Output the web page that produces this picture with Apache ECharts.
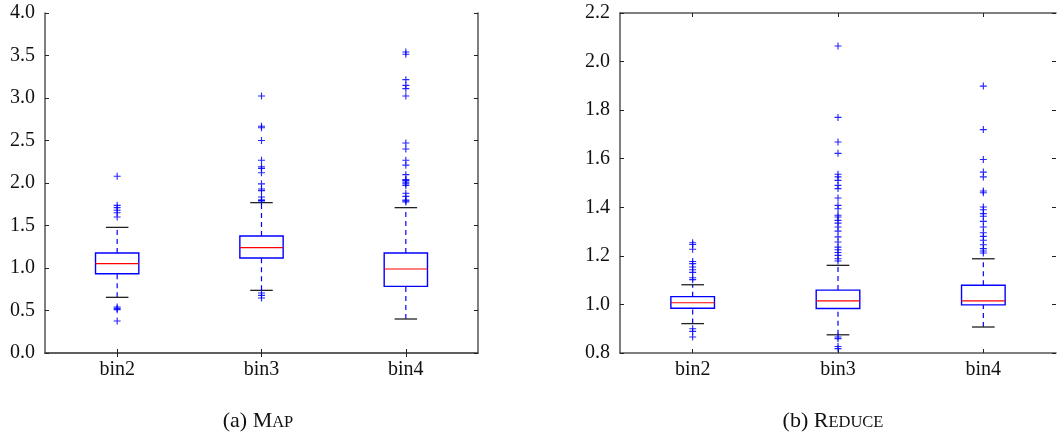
<!DOCTYPE html>
<html>
<head>
<meta charset="utf-8">
<script src="https://cdn.jsdelivr.net/npm/echarts@6/dist/echarts.min.js"></script>
<style>
  html, body { margin: 0; padding: 0; background: #fff; }
  #chart { width: 1057px; height: 440px; }
</style>
</head>
<body>
<div id="chart"></div>
<script>
var categories = ['bin2', 'bin3', 'bin4'];

// [lower whisker, Q1, median, Q3, upper whisker]
var mapBoxes = [
    [0.655, 0.933, 1.051, 1.176, 1.478],
    [0.737, 1.118, 1.239, 1.376, 1.769],
    [0.40, 0.784, 0.988, 1.176, 1.71]
];
var mapOutliers = [
    [2.08, 1.737, 1.71, 1.68, 1.65, 1.60, 0.541, 0.525, 0.51, 0.376],
    [3.024, 2.667, 2.65, 2.50, 2.267, 2.19, 2.17, 2.12, 1.99, 1.93, 1.91, 1.835, 1.80, 1.796, 1.79, 0.706, 0.678, 0.647],
    [3.541, 3.514, 3.216, 3.149, 3.11, 3.024, 2.47, 2.40, 2.267, 2.21, 2.098, 2.04, 2.03, 2.01, 1.99, 1.97, 1.88, 1.843, 1.80, 1.79, 1.776]
];

var reduceBoxes = [
    [0.921, 0.984, 1.007, 1.032, 1.081],
    [0.875, 0.983, 1.015, 1.059, 1.161],
    [0.907, 0.998, 1.015, 1.079, 1.188]
];
var reduceOutliers = [
    [1.254, 1.247, 1.227, 1.177, 1.168, 1.154, 1.143, 1.132, 1.110, 1.102, 0.900, 0.889, 0.866],
    [2.064, 1.770, 1.669, 1.622, 1.536, 1.525, 1.511, 1.490, 1.477, 1.438, 1.408, 1.394, 1.367, 1.360, 1.346, 1.335,
     1.319, 1.302, 1.278, 1.257, 1.236, 1.225, 1.214, 1.202, 1.188, 1.179, 0.866, 0.859, 0.827, 0.818],
    [1.899, 1.720, 1.597, 1.545, 1.525, 1.467, 1.460, 1.401, 1.390, 1.374, 1.363, 1.342, 1.319, 1.295, 1.280,
     1.264, 1.246, 1.230, 1.220, 1.212]
];

var mapTicks = { min: 0, max: 4, interval: 0.5 };
var reduceTicks = { min: 0.8, max: 2.2, interval: 0.2 };

var chart = echarts.init(document.getElementById('chart'));

var BLUE = '#0000ff';
var FONT = '"Liberation Serif", "DejaVu Serif", serif';
var PLUS = 'path://M0.42,0H0.58V0.42H1V0.58H0.58V1H0.42V0.58H0V0.42H0.42Z';

function boxData(boxes) {
    return boxes.map(function (b, i) { return [i].concat(b); });
}
function outlierData(outs) {
    var res = [];
    outs.forEach(function (list, i) {
        list.forEach(function (v) { res.push([i, v]); });
    });
    return res;
}

function renderBox(params, api) {
    var i = api.value(0);
    var lo = api.coord([i, api.value(1)]);
    var q1 = api.coord([i, api.value(2)]);
    var md = api.coord([i, api.value(3)]);
    var q3 = api.coord([i, api.value(4)]);
    var hi = api.coord([i, api.value(5)]);
    var bw = api.size([1, 0])[0] * 0.3;
    var cw = bw * 0.52;
    var x = lo[0];
    var dash = { stroke: BLUE, lineWidth: 1.2, lineDash: [5, 4] };
    var cap = { stroke: '#222', lineWidth: 1.3 };
    return {
        type: 'group',
        children: [
            { type: 'line', shape: { x1: x, y1: lo[1], x2: x, y2: q1[1] }, style: dash },
            { type: 'line', shape: { x1: x, y1: q3[1], x2: x, y2: hi[1] }, style: dash },
            { type: 'line', shape: { x1: x - cw / 2, y1: lo[1], x2: x + cw / 2, y2: lo[1] }, style: cap },
            { type: 'line', shape: { x1: x - cw / 2, y1: hi[1], x2: x + cw / 2, y2: hi[1] }, style: cap },
            { type: 'rect', shape: { x: x - bw / 2, y: q3[1], width: bw, height: q1[1] - q3[1] },
              style: { fill: '#fff', stroke: BLUE, lineWidth: 1.4 } },
            { type: 'line', shape: { x1: x - bw / 2, y1: md[1], x2: x + bw / 2, y2: md[1] },
              style: { stroke: '#ff0000', lineWidth: 1.2 } }
        ]
    };
}

var frame = { show: true, lineStyle: { color: '#555', width: 1.5 } };
var tick = { show: true, inside: true, length: 4, lineStyle: { color: '#222', width: 1 } };

function xAxes(grid) {
    return [{
        gridIndex: grid, type: 'category', data: categories, position: 'bottom',
        axisLine: frame, axisTick: Object.assign({ alignWithLabel: true }, tick),
        axisLabel: { color: '#111', fontFamily: FONT, fontSize: 20, margin: 7 },
        splitLine: { show: false }
    }, {
        gridIndex: grid, type: 'category', data: categories, position: 'top',
        axisLine: frame, axisTick: Object.assign({ alignWithLabel: true }, tick),
        axisLabel: { show: false }, splitLine: { show: false }
    }];
}
function yAxes(grid, t, rightLine) {
    return [{
        gridIndex: grid, type: 'value', position: 'left', min: t.min, max: t.max, interval: t.interval,
        axisLine: frame, axisTick: tick,
        axisLabel: { color: '#111', fontFamily: FONT, fontSize: 20, margin: 10,
                     formatter: function (v) { return v.toFixed(1); } },
        splitLine: { show: false }
    }, {
        gridIndex: grid, type: 'value', position: 'right', min: t.min, max: t.max, interval: t.interval,
        axisLine: rightLine ? frame : { show: false }, axisTick: tick,
        axisLabel: { show: false }, splitLine: { show: false }
    }];
}

var capRich = {
    n: { fontFamily: FONT, fontSize: 22, fill: '#111', verticalAlign: 'bottom' },
    s: { fontFamily: FONT, fontSize: 16.5, fill: '#111', verticalAlign: 'bottom', padding: [0, 0, 1, 0] }
};

var option = {
    animation: false,
    grid: [
        { left: 45, top: 13, width: 433, height: 340 },
        { left: 620, top: 13, width: 436, height: 340 }
    ],
    xAxis: xAxes(0).concat(xAxes(1)),
    yAxis: yAxes(0, mapTicks, true).concat(yAxes(1, reduceTicks, false)),
    graphic: [{
        type: 'text', x: 258, y: 421,
        style: {
            text: '{n|(a) M}{s|AP}', textAlign: 'center', textVerticalAlign: 'middle', rich: capRich
        }
    }, {
        type: 'text', x: 833, y: 421,
        style: {
            text: '{n|(b) R}{s|EDUCE}', textAlign: 'center', textVerticalAlign: 'middle', rich: capRich
        }
    }],
    series: [{
        type: 'custom', xAxisIndex: 0, yAxisIndex: 0,
        renderItem: renderBox, data: boxData(mapBoxes),
        encode: { x: 0, y: [1, 2, 3, 4, 5] }, z: 2
    }, {
        type: 'scatter', xAxisIndex: 0, yAxisIndex: 0,
        data: outlierData(mapOutliers), symbol: PLUS, symbolSize: 7,
        itemStyle: { color: BLUE, opacity: 0.85 }, z: 3
    }, {
        type: 'custom', xAxisIndex: 2, yAxisIndex: 2,
        renderItem: renderBox, data: boxData(reduceBoxes),
        encode: { x: 0, y: [1, 2, 3, 4, 5] }, z: 2
    }, {
        type: 'scatter', xAxisIndex: 2, yAxisIndex: 2,
        data: outlierData(reduceOutliers), symbol: PLUS, symbolSize: 7,
        itemStyle: { color: BLUE, opacity: 0.85 }, z: 3
    }]
};

chart.setOption(option);
</script>
</body>
</html>
